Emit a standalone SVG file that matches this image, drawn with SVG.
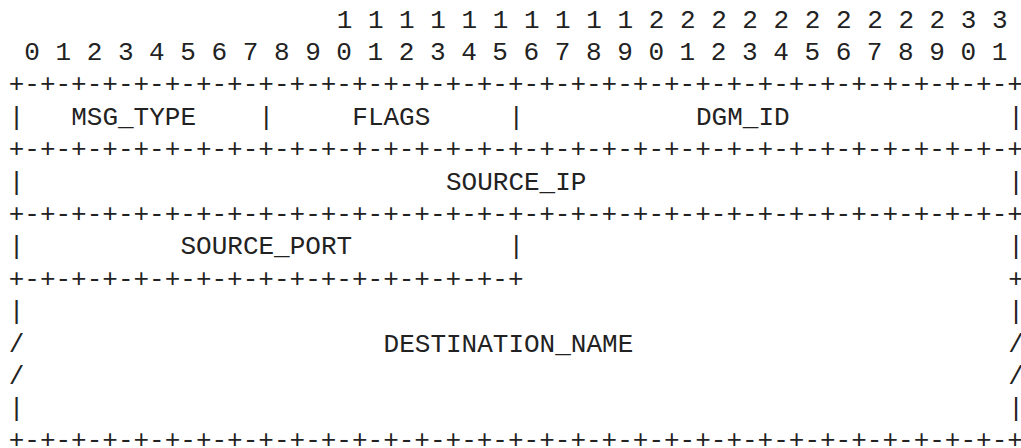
<svg xmlns="http://www.w3.org/2000/svg" width="1021" height="448" viewBox="0 0 1021 448">
<style>
text{font-family:"Liberation Mono","DejaVu Sans Mono",monospace;font-size:26px;fill:#222;white-space:pre}
</style>
<rect width="1021" height="448" fill="#fff"/>
<g id="bit-ruler">
<text x="336.7" y="27.5" xml:space="preserve">1 1 1 1 1 1 1 1 1 1 2 2 2 2 2 2 2 2 2 2 3 3</text>
<text x="24.3" y="59.9" xml:space="preserve">0 1 2 3 4 5 6 7 8 9 0 1 2 3 4 5 6 7 8 9 0 1 2 3 4 5 6 7 8 9 0 1</text>
</g>
<g id="connectors">
<text x="8.7" y="92.3">+-+-+-+-+-+-+-+-+-+-+-+-+-+-+-+-+-+-+-+-+-+-+-+-+-+-+-+-+-+-+-+-+</text>
<text x="8.7" y="124.7">|</text><text x="258.6" y="124.7">|</text><text x="508.5" y="124.7">|</text><text x="1008.3" y="124.7">|</text>
<text x="8.7" y="157.1">+-+-+-+-+-+-+-+-+-+-+-+-+-+-+-+-+-+-+-+-+-+-+-+-+-+-+-+-+-+-+-+-+</text>
<text x="8.7" y="189.5">|</text><text x="1008.3" y="189.5">|</text>
<text x="8.7" y="221.9">+-+-+-+-+-+-+-+-+-+-+-+-+-+-+-+-+-+-+-+-+-+-+-+-+-+-+-+-+-+-+-+-+</text>
<text x="8.7" y="254.3">|</text><text x="508.5" y="254.3">|</text><text x="1008.3" y="254.3">|</text>
<text x="8.7" y="286.7">+-+-+-+-+-+-+-+-+-+-+-+-+-+-+-+-+</text><text x="1008.3" y="286.7">+</text>
<text x="8.7" y="319.1">|</text><text x="1008.3" y="319.1">|</text>
<text x="8.7" y="351.5">/</text><text x="1008.3" y="351.5">/</text>
<text x="8.7" y="383.9">/</text><text x="1008.3" y="383.9">/</text>
<text x="8.7" y="416.3">|</text><text x="1008.3" y="416.3">|</text>
<text x="8.7" y="447.5">+-+-+-+-+-+-+-+-+-+-+-+-+-+-+-+-+-+-+-+-+-+-+-+-+-+-+-+-+-+-+-+-+</text>
</g>
<g id="msg-type"><text x="71.2" y="124.7">MSG_TYPE</text></g>
<g id="flags"><text x="352.3" y="124.7">FLAGS</text></g>
<g id="dgm-id"><text x="696" y="124.7">DGM_ID</text></g>
<g id="source-ip"><text x="446" y="189.5">SOURCE_IP</text></g>
<g id="source-port"><text x="180.5" y="254.3">SOURCE_PORT</text></g>
<g id="destination-name"><text x="383.6" y="351.5">DESTINATION_NAME</text></g>
</svg>
